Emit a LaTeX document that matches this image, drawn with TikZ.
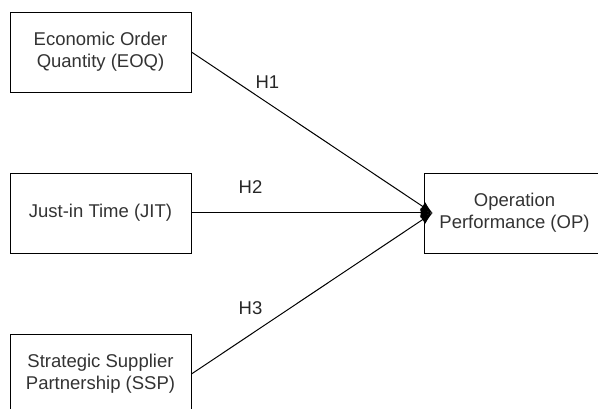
\documentclass[tikz,border=0pt]{standalone}
\usepackage{fontspec}
\setmainfont{Liberation Sans}
\usetikzlibrary{arrows.meta,positioning,calc}
\tikzstyle{block} = [draw, line width=0.9pt, rectangle, minimum height=80pt, minimum width=181pt, align=center, text=black!80, font=\fontsize{18.5}{22}\selectfont]
\tikzstyle{hyp} = [text=black!85, font=\fontsize{18.5}{22}\selectfont]
\tikzstyle{link} = [->, line width=1pt]

\begin{document}
\begin{tikzpicture}[auto, x=1pt, y=-1pt, node distance=161pt, >={Latex[length=12pt,width=10pt]}]
    \useasboundingbox (0,0) rectangle (598,409);
    % Constructs
    \node [block] (eoq) at (100.5,52) {Economic Order\\Quantity (EOQ)};
    \node [block, below of=eoq] (jit) {Just-in Time (JIT)};
    \node [block, below of=jit] (ssp) {Strategic Supplier\\Partnership (SSP)};
    \node [block, right of=jit, node distance=414pt] (op) {Operation\\Performance (OP)};
    \coordinate (hub) at ([xshift=9pt]op.west);

    % Hypotheses
    \draw [link] (eoq.east) -- node [hyp, pos=0.25, above right=0pt and 0pt] {H1} (hub);
    \draw [link] (jit.east) -- node [hyp, pos=0.245, above=16pt] {H2} (hub);
    \draw [link] (ssp.east) -- node [hyp, pos=0.245, above=16pt] {H3} (hub);
\end{tikzpicture}
\end{document}
